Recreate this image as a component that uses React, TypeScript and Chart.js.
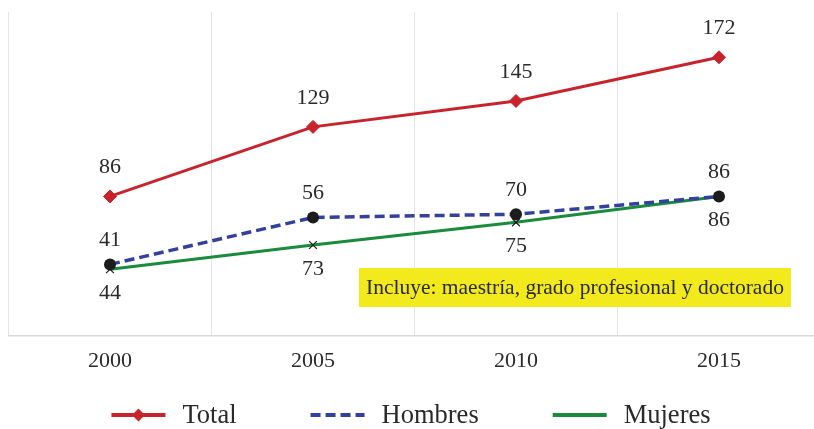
import React, { useEffect, useRef } from "react";
import { Chart, registerables } from "chart.js";

Chart.register(...registerables);

const categories = ["2000", "2005", "2010", "2015"];
const totalValues = [86, 129, 145, 172];
const hombresValues = [44, 73, 75, 86];
const mujeresValues = [41, 56, 70, 86];
const totalLabels = ["86", "129", "145", "172"];
const hombresLabels = ["41", "56", "70", "86"];
const mujeresLabels = ["44", "73", "75", "86"];
const seriesNames = ["Total", "Hombres", "Mujeres"];
const note = "Incluye: maestría, grado profesional y doctorado";

const FONT = '"Liberation Serif", "Times New Roman", serif';
const TEXT = "#2a2a2a";
const RED = "#c8232c";
const BLUE = "#33409c";
const GREEN = "#1a8a3c";
const W = 822;
const H = 429;

const pointLabelPlugin = {
  id: "pointLabels",
  afterDatasetsDraw(chart: any) {
    const ctx = chart.ctx;
    ctx.save();
    ctx.font = `22px ${FONT}`;
    ctx.fillStyle = TEXT;
    ctx.textAlign = "center";
    ctx.textBaseline = "middle";
    chart.data.datasets.forEach((ds: any, i: number) => {
      const meta = chart.getDatasetMeta(i);
      meta.data.forEach((pt: any, j: number) => {
        ctx.fillText(ds.pointLabels[j], pt.x, pt.y + ds.labelOffset);
      });
    });
    ctx.restore();
  },
};

const notePlugin = {
  id: "noteBox",
  afterDraw(chart: any) {
    const ctx = chart.ctx;
    ctx.save();
    ctx.font = `21.5px ${FONT}`;
    const tw = ctx.measureText(note).width;
    const x = 359;
    const y = 268;
    const bw = tw + 14;
    const bh = 39;
    ctx.fillStyle = "#f2ea1c";
    ctx.fillRect(x, y, bw, bh);
    ctx.fillStyle = TEXT;
    ctx.textAlign = "left";
    ctx.textBaseline = "middle";
    ctx.fillText(note, x + 7, y + bh / 2 + 1);
    ctx.restore();
  },
};

const legendPlugin = {
  id: "customLegend",
  afterDraw(chart: any) {
    const ctx = chart.ctx;
    ctx.save();
    ctx.font = `26.5px ${FONT}`;
    const sw = 54;
    const gapText = 17;
    const gapItem = 74;
    const items = chart.data.datasets.map((ds: any) => ({
      ds,
      tw: ctx.measureText(ds.label).width,
    }));
    let total = 0;
    items.forEach((it: any, i: number) => {
      total += sw + gapText + it.tw + (i > 0 ? gapItem : 0);
    });
    let x = 411 - total / 2;
    const y = 415;
    items.forEach((it: any) => {
      const ds = it.ds;
      ctx.save();
      ctx.strokeStyle = ds.borderColor;
      ctx.lineWidth = 4;
      ctx.setLineDash(ds.borderDash || []);
      ctx.beginPath();
      ctx.moveTo(x, y);
      ctx.lineTo(x + sw, y);
      ctx.stroke();
      ctx.restore();
      if (ds.legendMarker) {
        const cx = x + sw / 2;
        const r = 6.5;
        ctx.fillStyle = ds.pointBackgroundColor;
        ctx.beginPath();
        ctx.moveTo(cx, y - r);
        ctx.lineTo(cx + r, y);
        ctx.lineTo(cx, y + r);
        ctx.lineTo(cx - r, y);
        ctx.closePath();
        ctx.fill();
      }
      ctx.fillStyle = TEXT;
      ctx.textAlign = "left";
      ctx.textBaseline = "middle";
      ctx.fillText(ds.label, x + sw + gapText, y + 1);
      x += sw + gapText + it.tw + gapItem;
    });
    ctx.restore();
  },
};

export default function App() {
  const ref = useRef<HTMLCanvasElement | null>(null);

  useEffect(() => {
    if (!ref.current) return;
    const chart = new Chart(ref.current, {
      type: "line",
      data: {
        labels: categories,
        datasets: [
          {
            label: seriesNames[0],
            data: totalValues,
            borderColor: RED,
            backgroundColor: RED,
            borderWidth: 3,
            pointStyle: "rectRot",
            pointRadius: 6.5,
            pointBackgroundColor: RED,
            pointBorderColor: RED,
            pointBorderWidth: 1,
            tension: 0,
            pointLabels: totalLabels,
            labelOffset: -29,
            legendMarker: true,
          } as any,
          {
            label: seriesNames[1],
            data: hombresValues,
            borderColor: BLUE,
            backgroundColor: BLUE,
            borderWidth: 3.5,
            borderDash: [10, 5],
            pointStyle: "circle",
            pointRadius: 6,
            pointBackgroundColor: "#1c1c1c",
            pointBorderColor: "#1c1c1c",
            pointBorderWidth: 0,
            tension: 0,
            pointLabels: hombresLabels,
            labelOffset: -24,
          } as any,
          {
            label: seriesNames[2],
            data: mujeresValues,
            borderColor: GREEN,
            backgroundColor: GREEN,
            borderWidth: 3,
            pointStyle: "crossRot",
            pointRadius: 5.5,
            pointBackgroundColor: "#1c1c1c",
            pointBorderColor: "#1c1c1c",
            pointBorderWidth: 1.2,
            tension: 0,
            pointLabels: mujeresLabels,
            labelOffset: 24,
          } as any,
        ],
      },
      options: {
        animation: false,
        responsive: true,
        maintainAspectRatio: false,
        layout: {
          autoPadding: false,
          padding: { left: 8.5, right: 1.5, top: 12, bottom: 43 },
        },
        plugins: {
          legend: { display: false },
          tooltip: { enabled: false },
        },
        scales: {
          x: {
            offset: true,
            grid: {
              offset: true,
              color: "#e4e4e4",
              lineWidth: 1,
              drawTicks: false,
            },
            border: { display: true, color: "#d9d9d9", width: 1.5 },
            ticks: {
              padding: 12,
              color: TEXT,
              font: { family: FONT, size: 22 },
            },
          },
          y: {
            display: false,
            min: 0,
            max: 200,
          },
        },
      },
      plugins: [pointLabelPlugin, notePlugin, legendPlugin],
    });
    return () => chart.destroy();
  }, []);

  return (
    <div
      style={{
        position: "fixed",
        left: 0,
        top: 0,
        width: 814,
        height: 429,
        overflow: "hidden",
        background: "#fff",
      }}
    >
      <div style={{ position: "absolute", left: 0, top: 0, width: W, height: H }}>
        <canvas ref={ref} />
      </div>
    </div>
  );
}
